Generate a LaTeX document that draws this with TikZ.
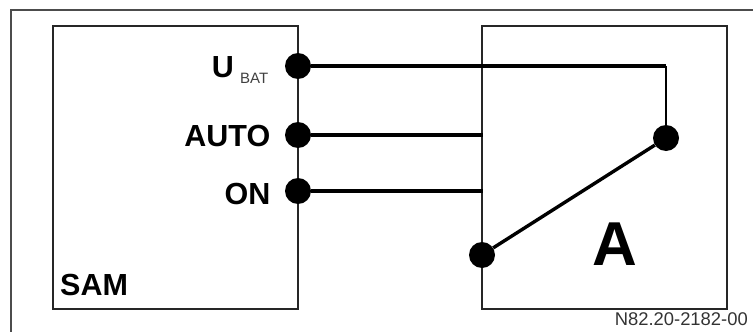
\documentclass[tikz,border=0pt]{standalone}
\usepackage{fontspec}
\setmainfont{Liberation Sans}
\usetikzlibrary{positioning}
\tikzset{
  unit/.style={draw=black!85,line width=1.4pt,minimum width=245pt,minimum height=283pt,inner sep=0pt},
  pin/.style={circle,fill=black,inner sep=0pt,minimum size=26pt},
  wire/.style={line width=3.4pt},
  thinwire/.style={line width=1.8pt},
  tag/.style={font=\bfseries\fontsize{30.5}{30.5}\selectfont,inner sep=0pt}
}
\begin{document}
\begin{tikzpicture}[x=1pt,y=-1pt]
    \useasboundingbox (0,0) rectangle (753,332);
    \draw[draw=black!70,line width=2pt] (11,332) -- (11,10) -- (753,10);

    \node[unit] (sam) at (175.5,167.5) {};
    \node[unit] (act) at (604.5,167.5) {};

    \node[pin] (ubat) at (298,66) {};
    \node[pin] (auto) at (298,135) {};
    \node[pin] (on) at (298,191) {};
    \node[pin] (top) at (666,138) {};
    \node[pin] (low) at (482,255) {};

    \coordinate (bend) at (666,66);
    \coordinate (autoend) at (483,135);
    \coordinate (onend) at (483,191);

    \node[tag,anchor=base east] (ulabel) at (234,77) {U};
    \node[font=\fontsize{15}{15}\selectfont,text=black!75,inner sep=0pt,anchor=base west] (batlabel) at (240,83) {BAT};
    \node[tag,anchor=base east] (autolabel) at (270.5,146) {AUTO};
    \node[tag,anchor=base east] (onlabel) at (270.5,204) {ON};
    \node[tag,anchor=base west] (samlabel) at (60,295) {SAM};
    \node[font=\bfseries\fontsize{62}{62}\selectfont,inner sep=0pt,anchor=base] (alabel) at (615,265) {A};
    \node[font=\fontsize{18.4}{18.4}\selectfont,text=black!80,inner sep=0pt,anchor=base east] (partno) at (748,325) {N82.20-2182-00};

    \path
    (ubat) edge[wire] (bend)
    (bend) edge[thinwire] (top)
    (auto) edge[wire] (autoend)
    (on) edge[wire] (onend)
    (low) edge[wire] (top);
\end{tikzpicture}
\end{document}
